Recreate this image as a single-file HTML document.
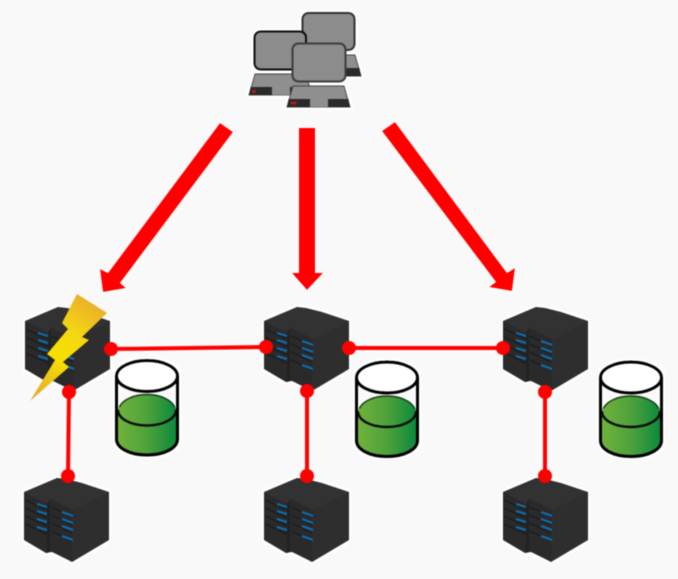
<!DOCTYPE html>
<html><head><meta charset="utf-8"><style>
html,body{margin:0;padding:0;background:#f9f9f9}
svg{display:block;filter:blur(0.45px)}
</style></head><body>
<svg width="678" height="579" viewBox="0 0 678 579" xmlns="http://www.w3.org/2000/svg">
<defs>
<filter id="h" x="-15%" y="-15%" width="130%" height="130%">
<feMorphology in="SourceAlpha" operator="dilate" radius="2" result="d"/>
<feGaussianBlur in="d" stdDeviation="0.8" result="b"/>
<feFlood flood-color="#fff"/><feComposite in2="b" operator="in" result="w"/>
<feMerge><feMergeNode in="w"/><feMergeNode in="SourceGraphic"/></feMerge>
</filter>
<filter id="t" x="-15%" y="-15%" width="130%" height="130%">
<feMorphology in="SourceAlpha" operator="dilate" radius="1" result="d"/>
<feGaussianBlur in="d" stdDeviation="0.7" result="b"/>
<feFlood flood-color="#fff" flood-opacity="0.7"/><feComposite in2="b" operator="in" result="w"/>
<feMerge><feMergeNode in="w"/><feMergeNode in="SourceGraphic"/></feMerge>
</filter>
<linearGradient id="g" x1="0" x2="1" y1="0" y2="0"><stop offset="0" stop-color="#6fb23a"/><stop offset="0.5" stop-color="#4fa23a"/><stop offset="1" stop-color="#0c8a3c"/></linearGradient>
<linearGradient id="bolt" gradientUnits="userSpaceOnUse" x1="100" y1="296" x2="36" y2="398"><stop offset="0" stop-color="#e9a52e"/><stop offset="0.38" stop-color="#f4d812"/><stop offset="0.62" stop-color="#f7e000"/><stop offset="1" stop-color="#e8a92c"/></linearGradient>
<g id="srv" filter="url(#h)">
<path d="M0 16L33 2L42 3L58 7L85 16V64L48 86L38 80L28 76L22 77L0 64Z" fill="#2d2d2d"/>
<path d="M0 16L33 2L42 3L58 7L26 22L23 28Z" fill="#323232"/>
<path d="M26 22L58 7L85 16L49 34Z" fill="#333"/>
<path d="M49 34L85 16V64L48 86Z" fill="#2f2f2f"/>
<path d="M0 16L23 28V77L22 77L0 64Z" fill="#2a2a2a"/>
<path d="M26 23L49 34L48 86L28 76L26 76Z" fill="#2b2b2b"/>
<path d="M23 28L26 23V76L23 77Z" fill="#232323"/>
<g stroke="#1f1f1f" stroke-width="1.300" fill="none">
<path d="M1 24L23 34M1 32L23 42M1 40L23 50M1 48L23 58M27 31L48 41M27 39L48 49M27 47L48 57M27 55L48 65"/>
</g>
<g stroke="#0f6cb0" stroke-width="2.200" fill="none">
<path d="M13 28L23 31M13 35L23 38M13 43L23 46M13 51L23 54M38 36L49 40M38 43L49 47M38 50L49 54M38 60L49 64"/>
</g>
</g>
<g id="cyl" filter="url(#h)">
<path d="M0 16V79C0 88 13 95 30.500 95C48 95 61 88 61 79V16" fill="#fafafa" stroke="#000" stroke-width="3"/>
<path d="M1.500 50V79C1.500 87 14 93.500 30.500 93.500C47 93.500 59.500 87 59.500 79V50Z" fill="url(#g)"/>
<ellipse cx="30.500" cy="50" rx="29" ry="15.500" fill="url(#g)"/>
<path d="M1.500 50C1.500 58.500 14 65.500 30.500 65.500C47 65.500 59.500 58.500 59.500 50" fill="none" stroke="#111" stroke-width="2.500"/>
<path d="M3 47C6 40 17 34.500 30.500 34.500C44 34.500 55 40 58 47" fill="none" stroke="#1a3a1a" stroke-width="1.500"/>
<ellipse cx="30.500" cy="16" rx="30.500" ry="15.500" fill="#fff" stroke="#000" stroke-width="3"/>
<path d="M0 16V79C0 88 13 95 30.500 95C48 95 61 88 61 79V16" fill="none" stroke="#000" stroke-width="3"/>
</g>
<g id="base">
<path d="M6 0H57L63 21H0Z" fill="#8f8f8f" stroke="#444" stroke-width="1"/>
<path d="M1.500 13H23V21H0ZM41 13H61.500L63 21H41Z" fill="#2c2c2c"/>
<path d="M23 13H41V21H23Z" fill="#8f8f8f"/>
</g>
</defs>
<rect width="678" height="579" fill="#f9f9f9"/>

<!-- computers -->
<g filter="url(#h)">
<use href="#base" x="298" y="55"/>
<rect x="302.500" y="13" width="52" height="37" rx="6" fill="#8c8c8c" stroke="#333" stroke-width="2"/>
<use href="#base" x="249" y="74"/>
<circle cx="254" cy="91.500" r="1.800" fill="#c81414"/>
<rect x="254.500" y="31.500" width="51.500" height="38" rx="6" fill="#8c8c8c" stroke="#111" stroke-width="2"/>
<use href="#base" x="287" y="86"/>
<circle cx="292" cy="103" r="1.500" fill="#c81414"/><circle cx="295" cy="103" r="1.500" fill="#c81414"/>
<rect x="292.500" y="43.500" width="53" height="38" rx="6" fill="#8c8c8c" stroke="#3c3c3c" stroke-width="2"/>
</g>

<!-- arrows -->
<g fill="#ff0000" filter="url(#t)">
<path d="M220 123L233 132L120 283L126 288L103 292L100 269L108 273Z"/>
<path d="M299 128H315V273H323L307 290L292 273H299Z"/>
<path d="M382 131L395 122L507 273L515 268L512 291L489 287L496 282Z"/>
</g>

<!-- servers -->
<use href="#srv" x="25" y="305"/>
<use href="#srv" x="264" y="305"/>
<use href="#srv" x="503" y="305"/>
<use href="#srv" x="24" y="476"/>
<use href="#srv" x="264" y="476"/>
<use href="#srv" x="503" y="476"/>

<!-- connectors -->
<g stroke="#ff0000" stroke-width="4" fill="none">
<path d="M111 349L266 347"/>
<path d="M349 348H503"/>
<path d="M69 392L68 476"/>
<path d="M307 391V476"/>
<path d="M545 392V476"/>
</g>
<g fill="#ff0000">
<circle cx="111" cy="349" r="7"/><circle cx="266" cy="347" r="7"/>
<circle cx="349" cy="348" r="7"/><circle cx="503" cy="348" r="7"/>
<circle cx="69" cy="392" r="7"/><circle cx="68" cy="476" r="7"/>
<circle cx="307" cy="391" r="7"/><circle cx="307" cy="476" r="7"/>
<circle cx="545" cy="392" r="7"/><circle cx="545" cy="476" r="7"/>
</g>

<!-- cylinders -->
<use href="#cyl" x="116.500" y="360"/>
<use href="#cyl" x="356.500" y="361.500"/>
<use href="#cyl" x="600.500" y="361.500"/>

<!-- bolt -->
<path d="M77 294L107 313L82 337L89 340L63 362L69 367L30 401L55 360L47 354L68 329L62 323Z" fill="url(#bolt)"/>
</svg>
</body></html>
